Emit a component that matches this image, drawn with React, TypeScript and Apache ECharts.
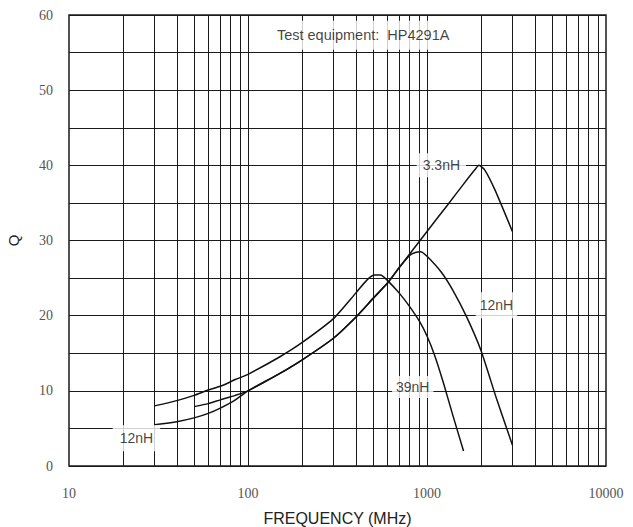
import React, { useEffect, useRef } from "react";
import * as echarts from "echarts";

// ---- data ----
const freq33 = [50, 60, 70, 85, 100, 150, 200, 300, 400, 500, 600, 700, 800, 1000, 1300, 1600, 1850, 1950, 2100, 2400, 3000];
const q33 = [7.9, 8.3, 8.8, 9.4, 10, 12.3, 14.1, 17, 19.8, 22.3, 24.3, 26.4, 28.2, 31.2, 34.7, 37.5, 39.4, 40, 39.4, 36.7, 31.2];

const freq12 = [30, 40, 50, 60, 70, 85, 100, 150, 200, 300, 400, 500, 600, 700, 800, 860, 920, 1000, 1200, 1400, 1660, 2000, 2450, 3000];
const q12 = [5.5, 5.9, 6.4, 7.0, 7.7, 8.8, 10, 12.3, 14.1, 17, 19.8, 22.3, 24.3, 26.4, 28.0, 28.4, 28.5, 27.9, 25.8, 23.3, 19.9, 15.4, 8.9, 2.8];

const freq39 = [30, 40, 50, 60, 70, 85, 100, 150, 200, 300, 400, 460, 510, 550, 600, 700, 800, 910, 1000, 1100, 1230, 1400, 1600];
const q39 = [8, 8.7, 9.4, 10.1, 10.6, 11.5, 12.2, 14.5, 16.4, 19.6, 23, 24.7, 25.4, 25.4, 24.7, 23, 21.2, 19.2, 17.3, 14.8, 11.2, 6.6, 2];

const minorFreqs = [20, 30, 40, 50, 60, 70, 80, 90, 100, 200, 300, 400, 500, 600, 700, 800, 900, 1000, 2000, 3000, 4000, 5000, 6000, 7000, 8000, 9000];

const labelTexts = ["Test equipment:  HP4291A", "3.3nH", "12nH", "39nH", "12nH"];
const labelFreqs = [440, 1203, 2444, 832, 23.8];
const labelQs = [57.3, 40, 21.4, 10.5, 3.7];

const zip = (xs: number[], ys: number[]) => xs.map((x, i) => [x, ys[i]]);

export default function App() {
  const ref = useRef<HTMLDivElement>(null);
  useEffect(() => {
    if (!ref.current) return;
    const chart = echarts.init(ref.current, undefined, { renderer: "svg" });
    const curve = (name: string, data: number[][]) => ({
      name,
      type: "line",
      data,
      smooth: 0.2,
      symbol: "none",
      z: 5,
      lineStyle: { color: "#111", width: 1.5 },
    });
    const paddings = [
      [7, 20],
      [5, 6],
      [6, 4],
      [4, 4],
      [6, 7],
    ];
    const fontSizes = [14.5, 14, 14, 14, 14];
    chart.setOption({
      animation: false,
      backgroundColor: "#fff",
      grid: {
        left: 69,
        right: 27,
        top: 15,
        bottom: 61,
        show: true,
        borderColor: "#1a1a1a",
        borderWidth: 1.5,
        outerBoundsMode: "none",
      },
      xAxis: {
        type: "log",
        logBase: 10,
        min: 10,
        max: 10000,
        axisLine: { show: false },
        axisTick: { show: false },
        splitLine: { show: false },
        axisLabel: {
          color: "#555",
          fontFamily: "Liberation Serif",
          fontSize: 14,
          margin: 20,
          formatter: (v: number) => String(Math.round(v)),
        },
        name: "FREQUENCY (MHz)",
        nameLocation: "middle",
        nameGap: 44,
        nameTextStyle: { color: "#222", fontFamily: "Liberation Sans", fontSize: 16 },
      },
      yAxis: {
        type: "value",
        min: 0,
        max: 60,
        interval: 5,
        axisLine: { show: false },
        axisTick: { show: false },
        splitLine: { show: true, lineStyle: { color: "#1a1a1a", width: 1 } },
        axisLabel: {
          color: "#555",
          fontFamily: "Liberation Serif",
          fontSize: 14,
          margin: 16,
          formatter: (v: number) => (v % 10 === 0 ? String(v) : ""),
        },
        name: "Q",
        nameLocation: "middle",
        nameGap: 48,
        nameRotate: 90,
        nameTextStyle: { color: "#222", fontFamily: "Liberation Sans", fontSize: 15 },
      },
      series: [
        {
          type: "line",
          data: [],
          z: 1,
          silent: true,
          markLine: {
            silent: true,
            symbol: "none",
            animation: false,
            label: { show: false },
            lineStyle: { color: "#1a1a1a", width: 1, type: "solid" },
            data: minorFreqs.map((f) => ({ xAxis: f })),
          },
        },
        curve("3.3nH", zip(freq33, q33)),
        curve("12nH", zip(freq12, q12)),
        curve("39nH", zip(freq39, q39)),
        {
          type: "scatter",
          z: 10,
          symbolSize: 0,
          silent: true,
          data: labelTexts.map((t, i) => ({
            value: [labelFreqs[i], labelQs[i]],
            label: {
              show: true,
              position: "inside",
              formatter: t,
              color: "#111",
              fontFamily: "Liberation Sans",
              fontSize: fontSizes[i],
              backgroundColor: "#fff",
              padding: paddings[i],
            },
          })),
        },
      ],
    });
    return () => chart.dispose();
  }, []);
  return (
    <div
      ref={ref}
      style={{ position: "absolute", left: 0, top: 0, width: 633, height: 527 }}
    />
  );
}
